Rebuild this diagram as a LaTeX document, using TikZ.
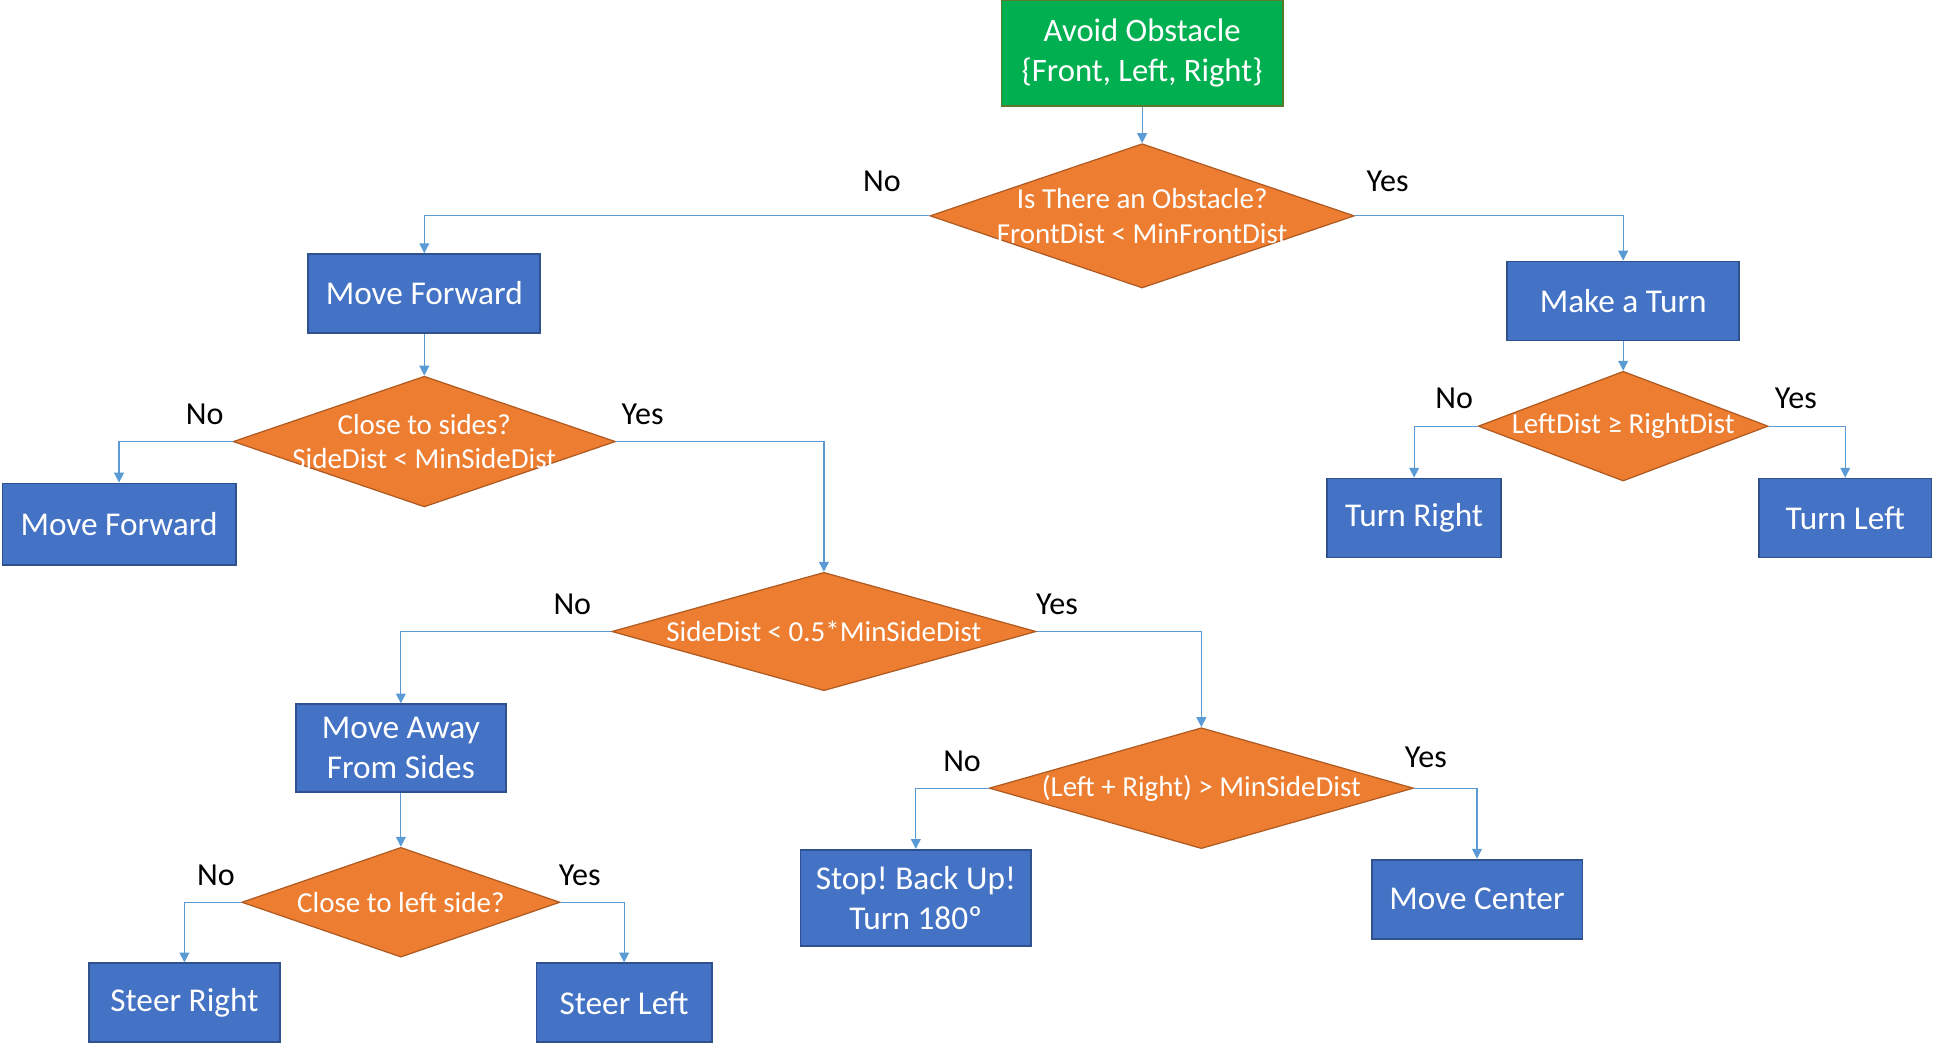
\documentclass[tikz,border=0pt]{standalone}
\usepackage{fontspec}
\setmainfont{Carlito}
\frenchspacing
\usetikzlibrary{shapes.geometric,arrows.meta}
\definecolor{actblue}{HTML}{4472C4}
\definecolor{actedge}{HTML}{2F528F}
\definecolor{askorange}{HTML}{ED7D31}
\definecolor{askedge}{HTML}{AE5A21}
\definecolor{startgreen}{HTML}{00B050}
\definecolor{startedge}{HTML}{5A7A2B}
\definecolor{flowblue}{HTML}{5B9BD5}

\begin{document}
\begin{tikzpicture}[x=1pt,y=-1pt,
  act/.style={draw=actedge, fill=actblue, line width=1.5pt, text=white, align=center,
    font=\fontsize{27}{32}\selectfont, inner sep=0pt},
  ask/.style={shape=diamond, draw=askedge, fill=askorange, line width=1pt, inner sep=0pt},
  asktext/.style={text=white, align=center, font=\fontsize{23.5}{28}\selectfont},
  answer/.style={font=\fontsize{26}{30}\selectfont},
  flow/.style={draw=flowblue, line width=1pt, -{Triangle[length=8pt,width=8pt]}}]
\useasboundingbox (0,0) rectangle (1568,846);

\node[act, draw=startedge, fill=startgreen, minimum width=228, minimum height=86,
  font=\fontsize{26.5}{33}\selectfont] (start) at (926,43) {Avoid Obstacle\\\{Front, Left, Right\}};
\node[ask, minimum width=344, minimum height=117,
  label={[asktext]center:{Is There an Obstacle?\\FrontDist < MinFrontDist}}] (obst) at (926,175) {};

\node[act, minimum width=188, minimum height=64] (fwdA) at (344,238) {Move Forward};
\node[act, minimum width=188, minimum height=64] (turn) at (1316,244) {Make a Turn};

\node[ask, minimum width=310, minimum height=106,
  label={[asktext]center:{Close to sides?\\SideDist < MinSideDist}}] (sides) at (344,358) {};
\node[act, minimum width=189, minimum height=66] (fwdB) at (96.5,425) {Move Forward};

\node[ask, minimum width=235, minimum height=89,
  label={[asktext]center:{LeftDist ≥ RightDist}}] (lr) at (1316,345.5) {};
\node[act, minimum width=141, minimum height=64] (turnR) at (1146.5,420) {Turn Right};
\node[act, minimum width=140, minimum height=64] (turnL) at (1496,420) {Turn Left};

\node[ask, minimum width=344, minimum height=96,
  label={[asktext]center:{SideDist < 0.5*MinSideDist}}] (half) at (668,512) {};
\node[act, minimum width=170, minimum height=71] (away) at (325,606.5) {Move Away\\From Sides};
\node[ask, minimum width=258, minimum height=89,
  label={[asktext]center:{Close to left side?}}] (leftside) at (325,731.5) {};
\node[act, minimum width=155, minimum height=64] (steerR) at (149.5,813) {Steer Right};
\node[act, minimum width=142, minimum height=64] (steerL) at (506,813) {Steer Left};

\node[ask, minimum width=344, minimum height=98,
  label={[asktext]center:{(Left + Right) > MinSideDist}}] (sum) at (974,639) {};
\node[act, minimum width=187, minimum height=78] (stop) at (742.5,728) {Stop! Back Up!\\Turn 180º};
\node[act, minimum width=171, minimum height=64] (center) at (1197.5,729) {Move Center};

\node[answer] (obstNo) at (715,147) {No};
\node[answer] (obstYes) at (1125,147) {Yes};
\node[answer] (sidesNo) at (166,336) {No};
\node[answer] (sidesYes) at (521,336) {Yes};
\node[answer] (lrNo) at (1179,323) {No};
\node[answer] (lrYes) at (1456,323) {Yes};
\node[answer] (halfNo) at (464,490) {No};
\node[answer] (halfYes) at (857,490) {Yes};
\node[answer] (leftsideNo) at (175,710) {No};
\node[answer] (leftsideYes) at (470,710) {Yes};
\node[answer] (sumNo) at (780,617) {No};
\node[answer] (sumYes) at (1156,614) {Yes};

\draw[flow] (start) -- (obst);
\draw[flow] (obst.west) -| (fwdA.north);
\draw[flow] (obst.east) -| (turn.north);
\draw[flow] (fwdA) -- (sides);
\draw[flow] (sides.west) -| (fwdB.north);
\draw[flow] (sides.east) -| (half.north);
\draw[flow] (turn) -- (lr);
\draw[flow] (lr.west) -| (turnR.north);
\draw[flow] (lr.east) -| (turnL.north);
\draw[flow] (half.west) -| (away.north);
\draw[flow] (half.east) -| (sum.north);
\draw[flow] (away) -- (leftside);
\draw[flow] (leftside.west) -| (steerR.north);
\draw[flow] (leftside.east) -| (steerL.north);
\draw[flow] (sum.west) -| (stop.north);
\draw[flow] (sum.east) -| (center.north);
\end{tikzpicture}
\end{document}
